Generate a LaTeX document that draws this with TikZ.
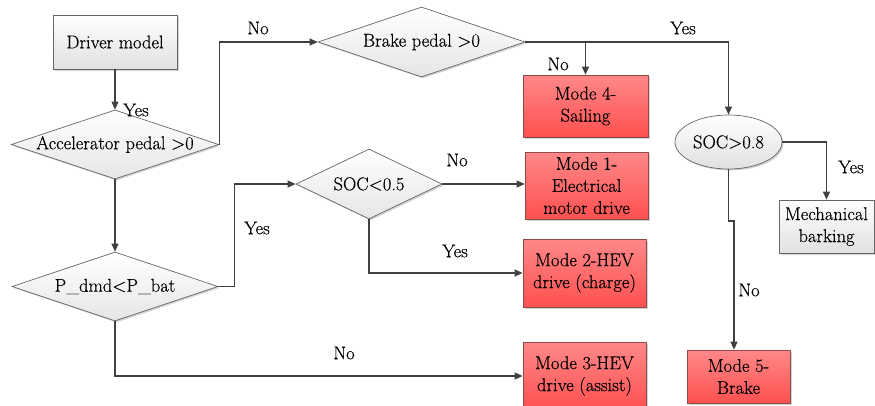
\documentclass[tikz,border=0pt]{standalone}
\usepackage{fontspec}
\setmainfont{Latin Modern Roman}[FakeBold=0.4]
\usetikzlibrary{shapes.geometric,arrows.meta,shadows}
\definecolor{redtop}{HTML}{FF8888}
\definecolor{redbot}{HTML}{FF5050}
\definecolor{redline}{HTML}{8F4A4A}
\definecolor{linec}{HTML}{404040}
\begin{document}
\begin{tikzpicture}[x=1pt,y=-1pt,
  font=\fontsize{18.5}{22}\selectfont,
  conn/.style={draw=linec, line width=1.1pt},
  arr/.style={conn, -{Triangle[length=8pt,width=7pt]}},
  shd/.style={drop shadow={shadow xshift=1.5pt,shadow yshift=-1.5pt,fill=black!35,opacity=0.5}},
  graybox/.style={rectangle, draw=black!60, line width=0.7pt, top color=white, bottom color=black!12, shd, inner sep=0pt, align=center},
  redbox/.style={rectangle, draw=redline, line width=0.7pt, top color=redtop, bottom color=redbot, shd, inner sep=0pt, align=center},
  dia/.style={diamond, aspect=3, draw=black!60, line width=0.7pt, top color=white, bottom color=black!10, shd, inner sep=0pt},
  lbl/.style={inner sep=0pt}
]
\useasboundingbox (0,0) rectangle (875,405);

% nodes
\node[graybox, minimum width=124pt, minimum height=54pt] (driver) at (115,42) {Driver model};
\node[dia, minimum width=206pt, minimum height=69pt] (acc) at (115,144.5) {Accelerator pedal >0};
\node[dia, minimum width=207pt, minimum height=70pt] (brake) at (421.5,42) {Brake pedal >0};
\node[redbox, minimum width=125pt, minimum height=62pt] (m4) at (585.5,106) {Mode 4-\\Sailing};
\node[ellipse, draw=black!60, line width=0.7pt, top color=white, bottom color=black!12, shd, inner sep=0pt, minimum width=107pt, minimum height=54pt] (soc8) at (728.5,142) {SOC>0.8};
\node[graybox, minimum width=95pt, minimum height=53pt] (mech) at (826.5,226.5) {Mechanical\\barking};
\node[redbox, minimum width=103pt, minimum height=53pt] (m5) at (738.5,376.5) {Mode 5-\\Brake};
\node[dia, minimum width=206pt, minimum height=69pt] (pdmd) at (115,286.5) {P\_dmd<P\_bat};
\node[dia, minimum width=146pt, minimum height=70pt] (soc5) at (369,184) {SOC<0.5};
\node[redbox, minimum width=123pt, minimum height=67pt] (m1) at (586.5,185.5) {Mode 1-\\Electrical\\motor drive};
\node[redbox, minimum width=123pt, minimum height=68pt] (m2) at (584.5,273) {Mode 2-HEV\\drive (charge)};
\node[redbox, minimum width=123pt, minimum height=68pt] (m3) at (584.5,376) {Mode 3-HEV\\drive (assist)};

% connectors
\draw[arr] (driver) -- (acc);
\draw[arr] (acc.east) |- (brake.west);
\draw[arr] (brake.east) -| (soc8.north);
\draw[arr] (brake.east -| m4.north) -- (m4.north);
\draw[arr] (soc8.east) -| (mech.north);
\coordinate (jog) at (734,221);
\draw[arr] (soc8.south) |- (jog) -- (jog |- m5.north);
\draw[arr] (acc) -- (pdmd);
\draw[arr] (pdmd.east) -- ++(16,0) |- (soc5.west);
\draw[arr] (soc5.east) -- (soc5.east -| m1.west);
\draw[arr] (soc5.south) |- (m2.west);
\draw[arr] (pdmd.south) |- (m3.west);

% labels
\node[lbl] (l1) at (136,110) {Yes};
\node[lbl] (l2) at (258,28) {No};
\node[lbl] (l3) at (558,64) {No};
\node[lbl] (l4) at (683,28) {Yes};
\node[lbl] (l5) at (851,167) {Yes};
\node[lbl] (l6) at (749,290) {No};
\node[lbl] (l7) at (257,228) {Yes};
\node[lbl] (l8) at (457,160) {No};
\node[lbl] (l9) at (455,251) {Yes};
\node[lbl] (l10) at (344,353) {No};
\end{tikzpicture}
\end{document}
